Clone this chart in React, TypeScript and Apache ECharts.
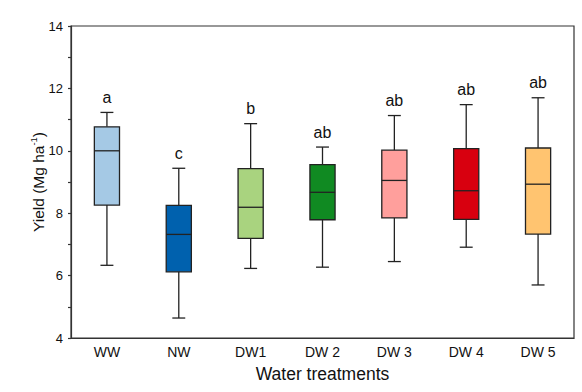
import React, { useEffect, useRef } from "react";
import * as echarts from "echarts";

const categories = ["WW", "NW", "DW1", "DW 2", "DW 3", "DW 4", "DW 5"];
const mins = [6.33, 4.64, 6.23, 6.27, 6.45, 6.91, 5.7];
const q1s = [8.26, 6.12, 7.19, 7.79, 7.85, 7.8, 7.33];
const medians = [10.0, 7.32, 8.19, 8.67, 9.05, 8.72, 8.93];
const q3s = [10.77, 8.25, 9.43, 9.56, 10.02, 10.07, 10.09];
const maxs = [11.23, 9.44, 10.87, 10.12, 11.13, 11.48, 11.7];
const letters = ["a", "c", "b", "ab", "ab", "ab", "ab"];
const colors = ["#a5c9e5", "#0061ae", "#a9d37f", "#108a22", "#ff9f9c", "#d8000f", "#ffc470"];

export default function App() {
  const ref = useRef<HTMLDivElement>(null);
  useEffect(() => {
    if (!ref.current) return;
    const chart = echarts.init(ref.current, null, { renderer: "svg" });
    const data = categories.map((c, i) => [i, mins[i], q1s[i], medians[i], q3s[i], maxs[i]]);
    const font = "Liberation Sans, Arial, sans-serif";
    chart.setOption({
      animation: false,
      backgroundColor: "#ffffff",
      grid: {
        left: 71,
        top: 26,
        width: 503,
        height: 312,
        show: true,
        borderColor: "#333",
        borderWidth: 1.2,
        backgroundColor: "transparent",
      },
      xAxis: {
        type: "category",
        data: categories,
        boundaryGap: true,
        name: "Water treatments",
        nameLocation: "middle",
        nameGap: 27,
        nameTextStyle: { fontSize: 17.5, color: "#111", fontFamily: font },
        axisLine: { lineStyle: { color: "#333", width: 1.2 } },
        axisTick: { inside: true, length: 5, alignWithLabel: true, lineStyle: { color: "#333", width: 1.2 } },
        axisLabel: { fontSize: 14, color: "#111", margin: 7, fontFamily: font },
        splitLine: { show: false },
      },
      yAxis: {
        type: "value",
        min: 4,
        max: 14,
        interval: 2,
        name: "{a|Yield (Mg ha}{s|-1}{a|)}",
        nameLocation: "middle",
        nameGap: 25,
        nameMoveOverlap: false,
        nameTextStyle: {
          color: "#111",
          fontFamily: font,
          rich: {
            a: { fontSize: 15.5, color: "#111", fontFamily: font, verticalAlign: "bottom", lineHeight: 18 },
            s: { fontSize: 9.5, color: "#111", fontFamily: font, verticalAlign: "top", lineHeight: 18 },
          },
        },
        axisLine: { show: true, lineStyle: { color: "#333", width: 1.2 } },
        axisTick: { show: true, inside: false, length: 3, lineStyle: { color: "#333", width: 1.2 } },
        minorTick: { show: true, splitNumber: 2, length: 3, lineStyle: { color: "#333", width: 1.2 } },
        axisLabel: { fontSize: 13, color: "#111", margin: 8, fontFamily: font },
        splitLine: { show: false },
      },
      series: [
        {
          type: "custom",
          data,
          encode: { x: 0, y: [1, 2, 3, 4, 5] },
          renderItem: (params: any, api: any) => {
            const i = api.value(0);
            const pMin = api.coord([i, api.value(1)]);
            const pQ1 = api.coord([i, api.value(2)]);
            const pMed = api.coord([i, api.value(3)]);
            const pQ3 = api.coord([i, api.value(4)]);
            const pMax = api.coord([i, api.value(5)]);
            const bandW = api.size([1, 0])[0];
            const boxW = bandW * 0.35;
            const capW = bandW * 0.18;
            const x = pMed[0];
            const ls = { stroke: "#222", lineWidth: 1.3 };
            return {
              type: "group",
              children: [
                { type: "line", shape: { x1: x, y1: pMax[1], x2: x, y2: pQ3[1] }, style: ls },
                { type: "line", shape: { x1: x, y1: pQ1[1], x2: x, y2: pMin[1] }, style: ls },
                { type: "line", shape: { x1: x - capW / 2, y1: pMax[1], x2: x + capW / 2, y2: pMax[1] }, style: ls },
                { type: "line", shape: { x1: x - capW / 2, y1: pMin[1], x2: x + capW / 2, y2: pMin[1] }, style: ls },
                {
                  type: "rect",
                  shape: { x: x - boxW / 2, y: pQ3[1], width: boxW, height: pQ1[1] - pQ3[1] },
                  style: { fill: colors[i], stroke: "#222", lineWidth: 1.3 },
                },
                { type: "line", shape: { x1: x - boxW / 2, y1: pMed[1], x2: x + boxW / 2, y2: pMed[1] }, style: ls },
                {
                  type: "text",
                  x: x,
                  y: pMax[1] - 7,
                  style: {
                    text: letters[i],
                    fill: "#111",
                    fontSize: 16,
                    fontFamily: font,
                    align: "center",
                    verticalAlign: "bottom",
                  },
                },
              ],
            };
          },
        },
      ],
    });
    return () => chart.dispose();
  }, []);
  return <div ref={ref} style={{ width: 582, height: 392, position: "absolute", left: 0, top: 0 }} />;
}
